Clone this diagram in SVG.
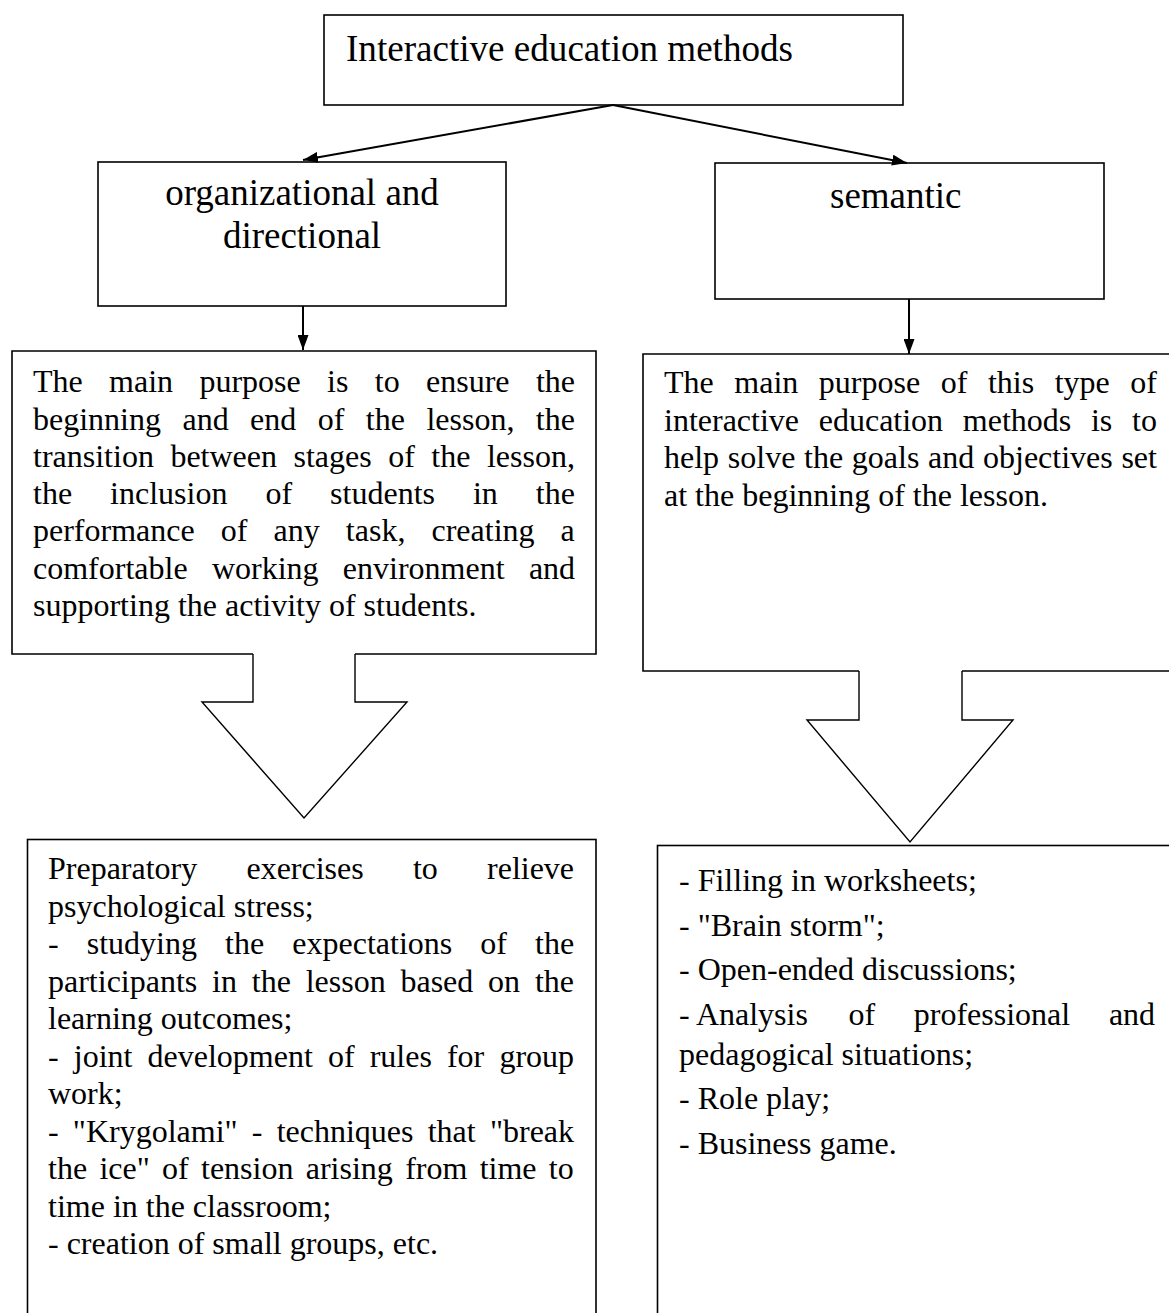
<svg xmlns="http://www.w3.org/2000/svg" width="1169" height="1313" viewBox="0 0 1169 1313">
<style>
.box{fill:none;stroke:#000;stroke-width:1.6}
.con{fill:none;stroke:#000;stroke-width:2}
.big{fill:none;stroke:#000;stroke-width:1.4;stroke-linejoin:miter}
.t{font-family:"Liberation Serif","Times New Roman",serif;font-size:32px;fill:#000}
.h{font-family:"Liberation Serif","Times New Roman",serif;font-size:37px;fill:#000}
</style>
<defs>
<marker id="ah" markerUnits="userSpaceOnUse" markerWidth="15" markerHeight="11" viewBox="0 0 15 11" refX="15" refY="5.5" orient="auto">
<path d="M0,0 L15,5.5 L0,11 z" fill="#000"/>
</marker>
</defs>
<rect x="0" y="0" width="1169" height="1313" fill="#fff"/>

<g id="node-top">
<rect class="box" x="324" y="15" width="579" height="90"/>
<text class="h" x="346" y="61" font-size="39" textLength="447" lengthAdjust="spacingAndGlyphs">Interactive education methods</text>
</g>

<g id="node-org">
<rect class="box" x="98" y="162" width="408" height="144"/>
<text class="h" x="302" y="205" text-anchor="middle">organizational and</text>
<text class="h" x="302" y="248" text-anchor="middle">directional</text>
</g>

<g id="node-sem">
<rect class="box" x="715" y="163" width="389" height="136"/>
<text class="h" x="830" y="208">semantic</text>
</g>

<g id="node-org-purpose">
<path class="box" d="M253,654 H12 V351 H596 V654 H355"/>
<text class="t" x="33" y="392" word-spacing="18.35">The main purpose is to ensure the</text>
<text class="t" x="33" y="430" word-spacing="13.45">beginning and end of the lesson, the</text>
<text class="t" x="33" y="467" word-spacing="8.5">transition between stages of the lesson,</text>
<text class="t" x="33" y="504" word-spacing="30">the inclusion of students in the</text>
<text class="t" x="33" y="541" word-spacing="18.1">performance of any task, creating a</text>
<text class="t" x="33" y="579" word-spacing="16.3">comfortable working environment and</text>
<text class="t" x="33" y="616">supporting the activity of students.</text>
</g>

<g id="node-sem-purpose">
<path class="box" d="M859,671 H643 V354 H1190 M962,671 H1190"/>
<text class="t" x="664" y="393" word-spacing="12.55">The main purpose of this type of</text>
<text class="t" x="664" y="431" word-spacing="11.7">interactive education methods is to</text>
<text class="t" x="664" y="468" word-spacing="0.7">help solve the goals and objectives set</text>
<text class="t" x="664" y="506">at the beginning of the lesson.</text>
</g>

<g id="node-org-list">
<rect class="box" x="27.5" y="839.5" width="568.5" height="500"/>
<text class="t" x="48" y="879" word-spacing="41.2">Preparatory exercises to relieve</text>
<text class="t" x="48" y="916.5">psychological stress;</text>
<text class="t" x="48" y="954" word-spacing="20.1">- studying the expectations of the</text>
<text class="t" x="48" y="991.5" word-spacing="6.8">participants in the lesson based on the</text>
<text class="t" x="48" y="1029">learning outcomes;</text>
<text class="t" x="48" y="1066.5" word-spacing="7.1">- joint development of rules for group</text>
<text class="t" x="48" y="1104">work;</text>
<text class="t" x="48" y="1141.5" word-spacing="6.2">- "Krygolami" - techniques that "break</text>
<text class="t" x="48" y="1179" word-spacing="4.3">the ice" of tension arising from time to</text>
<text class="t" x="48" y="1216.5">time in the classroom;</text>
<text class="t" x="48" y="1254">- creation of small groups, etc.</text>
</g>

<g id="node-sem-list">
<rect class="box" x="657.5" y="845.5" width="560" height="500"/>
<text class="t" x="679" y="891">- Filling in worksheets;</text>
<text class="t" x="679" y="935.5">- "Brain storm";</text>
<text class="t" x="679" y="980">- Open-ended discussions;</text>
<text class="t" y="1024.5"><tspan x="679">- Analysis</tspan><tspan x="848.4">of</tspan><tspan x="913.8">professional</tspan><tspan x="1108.9">and</tspan></text>
<text class="t" x="679" y="1064.5">pedagogical situations;</text>
<text class="t" x="679" y="1109">- Role play;</text>
<text class="t" x="679" y="1153.5">- Business game.</text>
</g>

<g id="connectors">
<path class="con" d="M613,105 L303,160" marker-end="url(#ah)"/>
<path class="con" d="M613,105 L907,163" marker-end="url(#ah)"/>
<path class="con" d="M303,306 V350" marker-end="url(#ah)"/>
<path class="con" d="M909,299 V354" marker-end="url(#ah)"/>
<path class="big" d="M253,654 V702 H202 L304,818 L407,702 H355 V654"/>
<path class="big" d="M859,671 V720 H807 L910,842 L1013,720 H962 V671"/>
</g>
</svg>
